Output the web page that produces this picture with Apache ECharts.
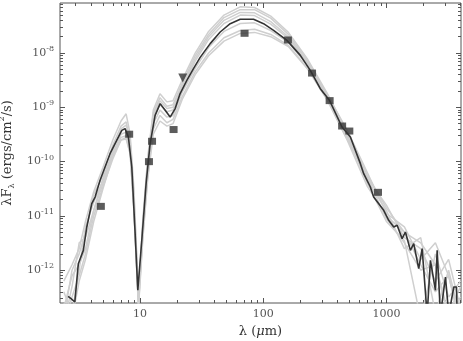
<!DOCTYPE html>
<html>
<head>
<meta charset="utf-8">
<script src="https://cdn.jsdelivr.net/npm/echarts@6/dist/echarts.min.js"></script>
<style>
  html, body { margin: 0; padding: 0; background: #fff; }
  #chart { width: 463px; height: 341px; }
</style>
</head>
<body>
<div id="chart"></div>
<script>
// best fit model (dark line), wavelength in micron, lambda*F_lambda in ergs/cm2/s
var bestLam = [2.6, 2.75, 2.95, 3.05, 3.15, 3.46, 3.69, 4.05, 4.31, 4.73, 5.19, 5.7, 6.26, 7.1, 7.55,
  8.03, 8.56, 9.11, 9.58, 10.32, 11.19, 12.06, 13.24, 14.54, 15.97, 17.54, 19.26, 21.14, 23.98,
  27.13, 30.74, 37.07, 44.7, 53.9, 65, 83.4, 100.6, 121.3, 155.9, 200, 241, 290.6, 346, 436, 510,
  615, 654, 741, 788, 951, 1044, 1147, 1222, 1342, 1427, 1567, 1667, 1830, 1951, 2142, 2279, 2502,
  2584, 2748, 3018, 3210, 3526, 3708, 3757];
var bestFlux = [3.3e-13, 3.0e-13, 2.6e-13, 2.5e-13, 1.32e-12, 2.32e-12, 6.25e-12, 1.69e-11, 2.23e-11,
  4.53e-11, 7.96e-11, 1.4e-10, 2.14e-10, 3.77e-10, 4.06e-10, 2.84e-10, 7.96e-11, 4.78e-12, 4.27e-13,
  3.56e-12, 3.98e-11, 2.14e-10, 7.13e-10, 1.17e-9, 8.81e-10, 6.62e-10, 9.47e-10, 1.79e-9, 3.14e-9,
  5.16e-9, 8.33e-9, 1.49e-8, 2.44e-8, 3.47e-8, 4.18e-8, 4.18e-8, 3.47e-8, 2.62e-8, 1.71e-8, 9.07e-9,
  4.8e-9, 2.21e-9, 1.33e-9, 4.34e-10, 2.84e-10, 9.18e-11, 6.01e-11, 3.41e-11, 2.23e-11, 1.27e-11,
  8.3e-12, 6.25e-12, 6.71e-12, 3.82e-12, 5.06e-12, 2.32e-12, 3.09e-12, 1.07e-12, 2.5e-12, 1.5e-13,
  1.52e-12, 4.27e-13, 2.32e-12, 1.5e-13, 7.5e-13, 1.5e-13, 4.91e-13, 4.91e-13, 1.5e-13];

// other good fits (grey lines), on one wavelength grid
var fitLam = [2.4, 2.8, 3.2, 3.6, 4.2, 5, 6, 7, 7.7, 8.3, 8.9, 9.7, 10.5, 11.5, 12.8, 14.5, 16.5, 18.5,
  22, 28, 36, 48, 65, 85, 115, 160, 230, 330, 480, 700, 1000, 1400, 1900, 2500, 3200, 4000];
var fit1 = [6.3e-13, 1.26e-12, 2.5e-12, 7.9e-12, 2.8e-11, 7.9e-11, 2.5e-10, 5.6e-10, 7.6e-10, 3.2e-10, 3.2e-11, 3.2e-13,
  7.9e-12, 1.12e-10, 8.9e-10, 1.78e-9, 1.26e-9, 1.32e-9, 3.2e-9, 1.0e-8, 2.5e-8, 5.0e-8, 7.1e-8, 6.9e-8,
  4.8e-8, 2.4e-8, 7.6e-9, 1.82e-9, 3.5e-10, 5.6e-11, 1.41e-11, 5.0e-12, 3.2e-12, 1.26e-12, 1.6e-13, 5.0e-13];
var fit2 = [1.26e-13, 1.0e-12, 2.0e-12, 5.0e-12, 2.5e-11, 5.6e-11, 2.0e-10, 4.5e-10, 5.4e-10, 2.5e-10, 2.5e-11, 3.5e-13,
  7.1e-12, 1.0e-10, 7.9e-10, 1.51e-9, 1.05e-9, 1.12e-9, 2.8e-9, 8.9e-9, 2.2e-8, 4.5e-8, 6.3e-8, 6.3e-8,
  4.4e-8, 2.2e-8, 7.1e-9, 1.74e-9, 3.8e-10, 6.3e-11, 1.12e-11, 6.3e-12, 1.58e-12, 3.2e-12, 7.9e-13, 1.0e-13];
var fit3 = [1.0e-13, 5.0e-13, 3.2e-12, 4.0e-12, 1.26e-11, 5.0e-11, 1.58e-10, 4.0e-10, 4.7e-10, 2.2e-10, 2.0e-11, 3.2e-13,
  6.3e-12, 8.9e-11, 7.1e-10, 1.32e-9, 9.5e-10, 1.0e-9, 2.5e-9, 7.9e-9, 2.0e-8, 4.0e-8, 5.6e-8, 5.5e-8,
  3.8e-8, 2.0e-8, 6.6e-9, 1.66e-9, 3.2e-10, 5.0e-11, 1.58e-11, 4.0e-12, 2.5e-12, 6.3e-13, 1.58e-12, 2.0e-13];
var fit4 = [4.0e-13, 1.6e-13, 1.0e-12, 6.3e-12, 1.78e-11, 4.5e-11, 1.41e-10, 3.2e-10, 3.5e-10, 1.78e-10, 1.58e-11, 2.8e-13,
  5.6e-12, 7.9e-11, 6.3e-10, 1.12e-9, 8.3e-10, 8.9e-10, 2.2e-9, 7.1e-9, 1.78e-8, 3.5e-8, 5.0e-8, 4.9e-8,
  3.4e-8, 1.86e-8, 6.3e-9, 1.58e-9, 3.0e-10, 4.0e-11, 7.9e-12, 3.5e-12, 1.26e-13, 2.0e-12, 3.2e-13, 6.3e-13];
var fit5 = [2.0e-13, 7.9e-13, 1.26e-12, 2.5e-12, 1.26e-11, 4.0e-11, 1.26e-10, 2.8e-10, 3.0e-10, 1.58e-10, 1.41e-11, 2.5e-13,
  4.5e-12, 6.3e-11, 5.0e-10, 8.9e-10, 6.6e-10, 7.1e-10, 1.91e-9, 5.2e-9, 1.26e-8, 2.5e-8, 3.5e-8, 3.6e-8,
  2.6e-8, 1.58e-8, 5.8e-9, 1.51e-9, 2.8e-10, 4.5e-11, 1.26e-11, 2.5e-12, 4.0e-12, 1.6e-13, 1.0e-12, 1.26e-13];
var fit6 = [1.0e-13, 3.2e-13, 7.9e-13, 2.0e-12, 1.0e-11, 3.5e-11, 1.12e-10, 2.5e-10, 2.6e-10, 1.41e-10, 1.26e-11, 2.2e-13,
  4.0e-12, 5.0e-11, 4.0e-10, 7.1e-10, 5.2e-10, 6.0e-10, 1.58e-9, 4.5e-9, 1.0e-8, 1.91e-8, 2.6e-8, 2.75e-8,
  2.2e-8, 1.38e-8, 5.2e-9, 1.41e-9, 2.6e-10, 5.0e-11, 8.9e-12, 3.2e-12, 1.0e-12, 1.26e-12, 1.26e-13, 3.2e-13];
var fit7 = [2.5e-13, 1.26e-13, 6.3e-13, 1.58e-12, 7.9e-12, 3.2e-11, 1.26e-10, 2.5e-10, 2.8e-10, 1.41e-10, 1.32e-11, 2.0e-13,
  3.5e-12, 4.5e-11, 3.2e-10, 5.6e-10, 4.5e-10, 5.0e-10, 1.41e-9, 4.0e-9, 8.9e-9, 1.66e-8, 2.3e-8, 2.4e-8,
  2.0e-8, 1.32e-8, 5.0e-9, 1.38e-9, 2.5e-10, 3.5e-11, 1.0e-11, 5.0e-12, 1.26e-12, 4.0e-13, 7.9e-13, 1.0e-13];
var fits = [fit1, fit2, fit3, fit4, fit5, fit6, fit7];

// photometry
var photLam = [4.8, 8.15, 11.8, 12.5, 18.7, 70.5, 158.6, 249, 346, 437, 500, 855];
var photFlux = [1.5e-11, 3.2e-10, 1.0e-10, 2.37e-10, 3.9e-10, 2.31e-8, 1.74e-8, 4.28e-9, 1.33e-9, 4.53e-10, 3.66e-10, 2.72e-11];
// upper limit
var limLam = [22.2];
var limFlux = [3.47e-9];

// axes
var xMin = 2.236, xMax = 4035;
var yMin = 2.49e-13, yMax = 8.35e-8;
var xTicks = [10, 100, 1000];
var xTickLabels = ['10', '100', '1000'];
var yTicks = [1e-12, 1e-11, 1e-10, 1e-9, 1e-8];
var yTickLabels = ['-12', '-11', '-10', '-9', '-8'];

var frameColor = '#555';
var labelColor = '#555';
var serif = 'DejaVu Serif';

function pairs(xs, ys) {
  return xs.map(function (x, i) { return [x, ys[i]]; });
}

// tick positions in log10 space for the overlay axes
var lx = [Math.log10(xMin), Math.log10(xMax)];
var ly = [Math.log10(yMin), Math.log10(yMax)];
var majorX = xTicks.map(Math.log10);
var majorY = yTicks.map(Math.log10);
var minorX = [], minorY = [];
for (var d = 0; d <= 3; d++) for (var k = 2; k <= 9; k++) minorX.push(d + Math.log10(k));
for (var e = -13; e <= -8; e++) for (var m = 2; m <= 9; m++) minorY.push(e + Math.log10(m));

function findLabel(v, ticks, labels) {
  for (var i = 0; i < ticks.length; i++) {
    if (Math.abs(Math.log10(ticks[i]) - v) < 1e-6) return labels[i];
  }
  return '';
}

function tickAxis(pos, ext, vals, len) {
  return {
    type: 'value', position: pos, min: ext[0], max: ext[1],
    axisLine: { show: false, onZero: false },
    splitLine: { show: false },
    axisTick: { show: true, inside: true, length: len, customValues: vals,
      lineStyle: { color: frameColor, width: 1 } },
    axisLabel: { show: false }
  };
}

var xBottom = tickAxis('bottom', lx, majorX, 5);
xBottom.axisLabel = {
  show: true, customValues: majorX, margin: 6,
  color: labelColor, fontFamily: serif, fontSize: 11,
  formatter: function (v) { return findLabel(v, xTicks, xTickLabels); }
};
xBottom.name = '{n|λ (}{i|μ}{n|m)}';
xBottom.nameLocation = 'middle';
xBottom.nameGap = 22;
xBottom.nameTextStyle = {
  color: '#333', fontFamily: serif, fontSize: 13,
  rich: {
    n: { fontFamily: serif, fontSize: 13, color: '#333' },
    i: { fontFamily: serif, fontSize: 13, color: '#333', fontStyle: 'italic' }
  }
};

var yLeft = tickAxis('left', ly, majorY, 5);
yLeft.axisLabel = {
  show: true, customValues: majorY, margin: 6,
  color: labelColor, fontFamily: serif, fontSize: 11, lineHeight: 16,
  formatter: function (v) { return '10{s|' + findLabel(v, yTicks, yTickLabels) + '}'; },
  rich: { s: { fontSize: 8, fontFamily: serif, color: labelColor, verticalAlign: 'top', lineHeight: 10 } }
};
yLeft.name = '{n|λF}{b|λ}{n| (ergs/cm}{t|2}{n|/s)}';
yLeft.nameLocation = 'middle';
yLeft.nameGap = 38;
yLeft.nameTextStyle = {
  color: '#333', fontFamily: serif, fontSize: 13, lineHeight: 18,
  rich: {
    n: { fontFamily: serif, fontSize: 13, color: '#333', lineHeight: 18 },
    b: { fontFamily: serif, fontSize: 8, color: '#333', verticalAlign: 'bottom', lineHeight: 10 },
    t: { fontFamily: serif, fontSize: 8, color: '#333', verticalAlign: 'top', lineHeight: 10 }
  }
};

var series = [];
fits.forEach(function (f, i) {
  series.push({
    name: 'fit' + (i + 1), type: 'line', xAxisIndex: 0, yAxisIndex: 0,
    data: pairs(fitLam, f), showSymbol: false, silent: true, z: 2,
    lineStyle: { color: '#cfcfcf', width: 1.5 }
  });
});
series.push({
  name: 'best', type: 'line', xAxisIndex: 0, yAxisIndex: 0,
  data: pairs(bestLam, bestFlux), showSymbol: false, silent: true, z: 3,
  lineStyle: { color: '#333', width: 1.6 }
});
series.push({
  name: 'phot', type: 'scatter', xAxisIndex: 0, yAxisIndex: 0,
  data: pairs(photLam, photFlux), symbol: 'rect', symbolSize: [8, 7], z: 4,
  itemStyle: { color: '#333' }
});
series.push({
  name: 'limit', type: 'scatter', xAxisIndex: 0, yAxisIndex: 0,
  data: pairs(limLam, limFlux), symbol: 'triangle', symbolRotate: 180, symbolSize: 9, z: 4,
  itemStyle: { color: '#333' }
});

var chart = echarts.init(document.getElementById('chart'));
chart.setOption({
  animation: false,
  grid: {
    left: 60, top: 3, right: 2, bottom: 38,
    show: true, borderColor: frameColor, borderWidth: 1,
    outerBoundsMode: 'none'
  },
  xAxis: [
    { type: 'log', min: xMin, max: xMax, show: false },
    xBottom,
    tickAxis('bottom', lx, minorX, 3),
    tickAxis('top', lx, majorX, 5),
    tickAxis('top', lx, minorX, 3)
  ],
  yAxis: [
    { type: 'log', min: yMin, max: yMax, show: false },
    yLeft,
    tickAxis('left', ly, minorY, 3),
    tickAxis('right', ly, majorY, 5),
    tickAxis('right', ly, minorY, 3)
  ],
  series: series
});
</script>
</body>
</html>
